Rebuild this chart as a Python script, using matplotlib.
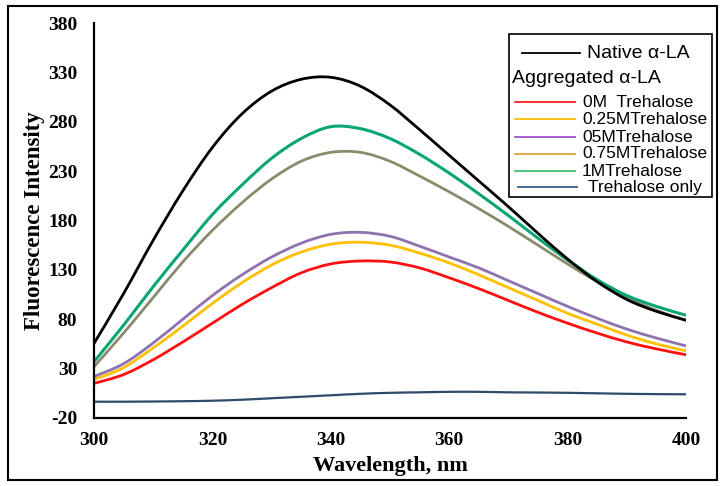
import numpy as np
import matplotlib
matplotlib.use('Agg')
import matplotlib.pyplot as plt
from matplotlib.lines import Line2D
from matplotlib.patches import Rectangle, PathPatch
from matplotlib.path import Path

plt.rcParams['axes.unicode_minus'] = False

# wavelength (nm) and fluorescence intensity
wavelength = [300, 305, 310, 315, 320, 325, 330, 335, 340, 345, 350,
              355, 360, 365, 370, 375, 380, 385, 390, 395, 400]
native = [55.5, 106, 160, 210, 254, 288, 311, 323, 325, 316, 297,
          272, 246, 220, 194, 167, 141, 118, 100, 88, 79]
tre_1m = [37, 74, 113, 150, 186, 216, 243, 263, 275, 273, 263,
          247, 228, 207, 185, 162, 140, 120, 104, 93, 84]
tre_075m = [32, 66, 102, 138, 170, 198, 222, 240, 249, 249, 240,
            225, 209, 192, 174, 155, 136, 118, 102, 89, 79]
tre_05m = [22, 35, 56, 80, 104, 125, 143, 157, 166, 168, 164,
           154, 143, 132, 119, 106, 93, 81, 70, 61, 53]
tre_025m = [19, 31, 51, 73, 96, 117, 135, 148, 156, 158, 155,
            147, 137, 125, 112, 99, 86, 75, 64, 55, 48]
tre_0m = [15, 24, 39, 57, 76, 95, 112, 127, 136, 139, 138,
          132, 122, 111, 99, 87, 76, 66, 57, 50, 44]
tre_only = [-3.5, -3.5, -3.3, -3, -2.5, -1.5, 0, 1.5, 3, 4.5, 5.5,
            6, 6.5, 6.5, 6, 5.8, 5.5, 5, 4.5, 4.2, 4]

xticks = [300, 320, 340, 360, 380, 400]
yticks = [-20, 30, 80, 130, 180, 230, 280, 330, 380]

serif = 'Liberation Serif'
sans = 'Liberation Sans'


def smooth_line(ax, x, y, color, lw):
    # Excel-style smoothed line: cubic Bezier segments through the data points
    pts = np.column_stack([np.asarray(x, float), np.asarray(y, float)])
    ext = np.vstack([pts[0], pts, pts[-1]])
    verts = [pts[0]]
    codes = [Path.MOVETO]
    for i in range(len(pts) - 1):
        p0, p1, p2, p3 = ext[i], ext[i + 1], ext[i + 2], ext[i + 3]
        verts += [p1 + (p2 - p0) / 6, p2 - (p3 - p1) / 6, p2]
        codes += [Path.CURVE4] * 3
    ax.add_patch(PathPatch(Path(verts, codes), fill=False, edgecolor=color,
                           lw=lw, capstyle='round', joinstyle='round'))


W, H = 725, 486
fig = plt.figure(figsize=(W / 100, H / 100), dpi=100)
ax = fig.add_axes([94 / W, 1 - 418 / H, 592 / W, 395 / H])

smooth_line(ax, wavelength, tre_only, '#2e4a6b', 1.6)
smooth_line(ax, wavelength, tre_0m, '#ff1010', 2.0)
smooth_line(ax, wavelength, tre_025m, '#ffc000', 2.0)
smooth_line(ax, wavelength, tre_05m, '#8e72b0', 2.0)
smooth_line(ax, wavelength, tre_075m, '#8c8a6c', 2.0)
smooth_line(ax, wavelength, tre_1m, '#0aa575', 2.2)
smooth_line(ax, wavelength, native, 'black', 2.0)

ax.set_xlim(300, 400)
ax.set_ylim(-20, 380)
ax.set_xticks(xticks)
ax.set_yticks(yticks)
ax.tick_params(length=0)
ax.tick_params(axis='x', pad=10)
ax.tick_params(axis='y', pad=12)
for lab in ax.get_xticklabels() + ax.get_yticklabels():
    lab.set_fontfamily(serif)
    lab.set_fontweight('bold')
    lab.set_fontsize(14)

for s in ['top', 'right']:
    ax.spines[s].set_visible(False)
for s in ['left', 'bottom']:
    ax.spines[s].set_linewidth(1.6)

ax.set_xlabel('Wavelength, nm', fontfamily=serif, fontweight='bold', fontsize=16)
ax.set_ylabel('Fluorescence Intensity', fontfamily=serif, fontweight='bold', fontsize=16.5)
ax.xaxis.set_label_coords(0.5, -0.095)
ax.yaxis.set_label_coords(-0.083, 0.5)


# hand-made legend, positioned in pixel units of the figure
def fx(px):
    return px / W


def fy(py):
    return 1 - py / H


fig.patches.append(Rectangle((fx(509), fy(197)), fx(712) - fx(509), fy(34) - fy(197),
                             transform=fig.transFigure, fill=False, lw=1.2, ec='black'))

fig.lines.append(Line2D([fx(522), fx(580)], [fy(53), fy(53)], transform=fig.transFigure,
                        color='black', lw=1.3))
fig.text(fx(587), fy(53), 'Native α-LA', fontfamily=sans, fontsize=14, va='center')
fig.text(fx(512), fy(78), 'Aggregated α-LA', fontfamily=sans, fontsize=14, va='center')

entries = [('0M  Trehalose', '#ff2020', 102, 515, 575, 583),
           ('0.25MTrehalose', '#ffc000', 119, 515, 575, 582),
           ('05MTrehalose', '#a050c8', 137, 515, 575, 582),
           ('0.75MTrehalose', '#e0a830', 154, 515, 575, 582),
           ('1MTrehalose', '#40c070', 171, 515, 575, 582),
           ('Trehalose only', '#3a5a8a', 187, 518, 577, 588)]
for label, col, y, x0, x1, xt in entries:
    fig.lines.append(Line2D([fx(x0), fx(x1)], [fy(y), fy(y)], transform=fig.transFigure,
                            color=col, lw=1.3))
    fig.text(fx(xt), fy(y), label, fontfamily=sans, fontsize=12.5, va='center')

# outer frame
fig.patches.append(Rectangle((fx(8), fy(480)), fx(717) - fx(8), fy(6) - fy(480),
                             transform=fig.transFigure, fill=False, lw=1.5, ec='black'))

fig.savefig('out.png', dpi=100)
